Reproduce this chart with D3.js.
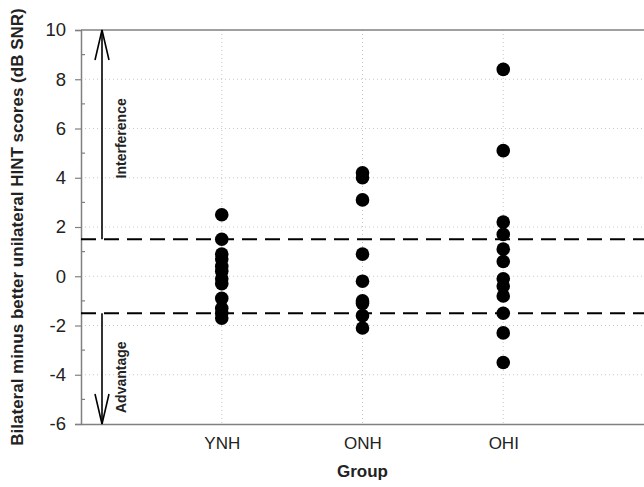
<!DOCTYPE html>
<html>
<head>
<meta charset="utf-8">
<script src="https://cdn.jsdelivr.net/npm/d3@7"></script>
<style>
  body { margin: 0; background: #fff; }
  text { font-family: "Liberation Sans", Arial, sans-serif; }
</style>
</head>
<body>
<svg id="chart" width="644" height="487"></svg>
<script>
// ---------------------------------------------
//  Data (dB SNR)
// ---------------------------------------------
const groups = ["YNH", "ONH", "OHI"];
const ynhScores = [2.5, 1.5, 0.9, 0.7, 0.4, 0.2, -0.1, -0.3, -0.9, -1.3, -1.5, -1.7];
const onhScores = [4.2, 4.0, 3.1, 0.9, -0.2, -1.0, -1.1, -1.6, -2.1];
const ohiScores = [8.4, 5.1, 2.2, 1.7, 1.1, 0.6, -0.1, -0.4, -0.8, -1.5, -2.3, -3.5];
const yTicks = [-6, -4, -2, 0, 2, 4, 6, 8, 10];
const yMinorTicks = [-5, -3, -1, 1, 3, 5, 7, 9];
const cutoffs = [1.5, -1.5];

const svg = d3.select("#chart");

// plot area
const plotLeft = 81, plotRight = 644, plotTop = 30, plotBottom = 424;

const x = d3.scaleLinear().domain([0, 4]).range([plotLeft, plotRight]);
const y = d3.scaleLinear().domain([-6, 10]).range([plotBottom, plotTop]);

// dotted grid
svg.append("g")
  .selectAll("line")
  .data(yTicks.filter(d => d > -6 && d < 10))
  .join("line")
  .attr("x1", plotLeft).attr("x2", plotRight)
  .attr("y1", d => y(d)).attr("y2", d => y(d))
  .attr("stroke", "#c8c8c8").attr("stroke-width", 1)
  .attr("stroke-dasharray", "1,3");

svg.append("g")
  .selectAll("line")
  .data(groups)
  .join("line")
  .attr("x1", (d, i) => x(i + 1)).attr("x2", (d, i) => x(i + 1))
  .attr("y1", plotTop).attr("y2", plotBottom)
  .attr("stroke", "#c8c8c8").attr("stroke-width", 1)
  .attr("stroke-dasharray", "1,3");

// top frame line
svg.append("line")
  .attr("x1", plotLeft).attr("x2", plotRight)
  .attr("y1", plotTop).attr("y2", plotTop)
  .attr("stroke", "#808080").attr("stroke-width", 1.5);

// y axis
const yAxis = svg.append("g")
  .attr("transform", `translate(${plotLeft},0)`)
  .call(d3.axisLeft(y).tickValues(yTicks).tickSize(6).tickPadding(9).tickFormat(d3.format("d")));
yAxis.select(".domain").attr("stroke", "#808080").attr("stroke-width", 1.5);
yAxis.selectAll(".tick line").attr("stroke", "#808080").attr("stroke-width", 1.2);
yAxis.selectAll(".tick text")
  .attr("font-size", 18.5).attr("fill", "#222")
  .style("font-family", "'Liberation Sans', Arial, sans-serif")
  .text(d => d < 0 ? "-" + Math.abs(d) : d);

// minor ticks (inside)
svg.append("g")
  .selectAll("line")
  .data(yMinorTicks)
  .join("line")
  .attr("x1", plotLeft).attr("x2", plotLeft + 4)
  .attr("y1", d => y(d)).attr("y2", d => y(d))
  .attr("stroke", "#808080").attr("stroke-width", 1.2);

// x axis
const xAxis = svg.append("g")
  .attr("transform", `translate(0,${plotBottom})`)
  .call(d3.axisBottom(x).tickValues([1, 2, 3]).tickSize(0).tickPadding(13)
    .tickFormat(d => groups[d - 1]));
xAxis.select(".domain").attr("stroke", "#808080").attr("stroke-width", 1.5);
xAxis.selectAll(".tick text")
  .attr("font-size", 17).attr("fill", "#222")
  .style("font-family", "'Liberation Sans', Arial, sans-serif");

// dashed cutoff lines
svg.append("g")
  .selectAll("line")
  .data(cutoffs)
  .join("line")
  .attr("x1", plotLeft).attr("x2", plotRight)
  .attr("y1", d => y(d)).attr("y2", d => y(d))
  .attr("stroke", "#000").attr("stroke-width", 2)
  .attr("stroke-dasharray", "15,8");

// arrows for interference / advantage
const arrowX = 102;
function arrow(from, to) {
  const g = svg.append("g").attr("stroke", "#000").attr("stroke-width", 1.6).attr("fill", "none");
  g.append("line").attr("x1", arrowX).attr("x2", arrowX).attr("y1", y(from)).attr("y2", y(to));
  const dir = to > from ? 1 : -1;
  const tip = y(to);
  g.append("path").attr("d",
    `M${arrowX - 7},${tip + dir * 30} L${arrowX},${tip} L${arrowX + 7},${tip + dir * 30}`);
}
arrow(1.5, 10);
arrow(-1.5, -6);

svg.append("text")
  .attr("transform", `translate(126,${y(5.6)}) rotate(-90)`)
  .attr("text-anchor", "middle")
  .attr("font-size", 14).attr("font-weight", "bold").attr("fill", "#222")
  .text("Interference");

svg.append("text")
  .attr("transform", `translate(126,${y(-4.1)}) rotate(-90)`)
  .attr("text-anchor", "middle")
  .attr("font-size", 14).attr("font-weight", "bold").attr("fill", "#222")
  .text("Advantage");

// points
const allScores = [ynhScores, onhScores, ohiScores];
allScores.forEach((scores, i) => {
  svg.append("g")
    .selectAll("circle")
    .data(scores)
    .join("circle")
    .attr("cx", x(i + 1))
    .attr("cy", d => y(d))
    .attr("r", 6.8)
    .attr("fill", "#000");
});

// axis titles
svg.append("text")
  .attr("transform", `translate(23,${(plotTop + plotBottom) / 2}) rotate(-90)`)
  .attr("text-anchor", "middle")
  .attr("font-size", 17).attr("font-weight", "bold").attr("fill", "#222")
  .text("Bilateral minus better unilateral HINT scores (dB SNR)");

svg.append("text")
  .attr("x", x(2)).attr("y", 477)
  .attr("text-anchor", "middle")
  .attr("font-size", 17).attr("font-weight", "bold").attr("fill", "#222")
  .text("Group");
</script>
</body>
</html>
